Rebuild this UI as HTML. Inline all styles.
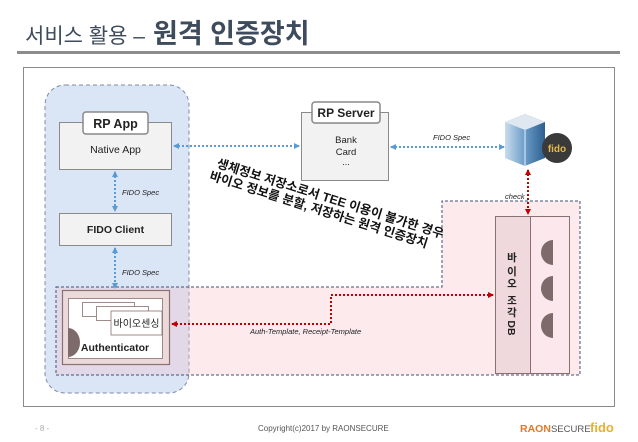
<!DOCTYPE html>
<html><head><meta charset="utf-8"><style>
body{margin:0;width:638px;height:442px;background:#fff;overflow:hidden}
svg{display:block}
text{font-family:"Liberation Sans","Noto Sans CJK KR",sans-serif}
</style></head><body>
<svg width="638" height="442" viewBox="0 0 638 442" xmlns="http://www.w3.org/2000/svg">
<defs>
<marker id="bh" markerWidth="6" markerHeight="6" refX="5" refY="3" orient="auto-start-reverse" markerUnits="userSpaceOnUse"><path d="M0,0 L6,3 L0,6 z" fill="#5b9bd5"/></marker>
<marker id="rh" markerWidth="6" markerHeight="6" refX="5" refY="3" orient="auto-start-reverse" markerUnits="userSpaceOnUse"><path d="M0,0 L6,3 L0,6 z" fill="#c00000"/></marker>
<linearGradient id="bg" x1="0" y1="0" x2="1" y2="0"><stop offset="0" stop-color="#c9dcee"/><stop offset="0.5" stop-color="#6a9cc8"/><stop offset="1" stop-color="#2d5f8f"/></linearGradient>
</defs>
<!-- title -->
<text x="25" y="43" font-size="21" fill="#3d4b5c">서비스 활용 –</text>
<text x="153" y="43" font-size="27" font-weight="bold" fill="#3d4b5c">원격 인증장치</text>
<rect x="17" y="51" width="603" height="3" fill="#8c8c8c"/>
<!-- frame -->
<rect x="23.5" y="67.5" width="591" height="339" fill="#fff" stroke="#8a8a8a" stroke-width="1"/>
<!-- blue region -->
<rect x="45" y="85" width="144" height="308" rx="20" fill="#dae5f6" stroke="#7d8ca3" stroke-dasharray="4,3"/>
<!-- pink region -->
<path d="M56,287 H442 V201 H580 V375 H56 Z" fill="rgba(246,190,198,0.32)" stroke="#3f527a" stroke-dasharray="3,2"/>
<!-- RP App -->
<rect x="59.5" y="122.5" width="112" height="47" fill="#f2f2f2" stroke="#8a8a8a"/>
<rect x="83" y="112" width="65" height="22" rx="3" fill="#fff" stroke="#888" stroke-width="1.5"/>
<text x="115.5" y="128" font-size="12.5" font-weight="bold" text-anchor="middle" fill="#222">RP App</text>
<text x="115.5" y="153" font-size="10.5" text-anchor="middle" fill="#222">Native App</text>
<!-- FIDO Client -->
<rect x="59.5" y="213.5" width="112" height="32" fill="#f2f2f2" stroke="#8a8a8a"/>
<text x="115.5" y="233" font-size="10.5" font-weight="bold" text-anchor="middle" fill="#222">FIDO Client</text>
<!-- vertical blue arrows -->
<line x1="115" y1="172" x2="115" y2="211" stroke="#5b9bd5" stroke-width="2" stroke-dasharray="2,2" marker-start="url(#bh)" marker-end="url(#bh)"/>
<text x="122" y="195" font-size="7.5" font-style="italic" fill="#222">FIDO Spec</text>
<line x1="115" y1="248" x2="115" y2="288" stroke="#5b9bd5" stroke-width="2" stroke-dasharray="2,2" marker-start="url(#bh)" marker-end="url(#bh)"/>
<text x="122" y="275" font-size="7.5" font-style="italic" fill="#222">FIDO Spec</text>
<!-- Authenticator -->
<rect x="62.5" y="290.5" width="107" height="74" fill="#ecdada" stroke="#8a7070" stroke-width="1.2"/>
<rect x="68.5" y="298.5" width="94" height="60" fill="#fff" stroke="#8a7070" stroke-width="0.8"/>
<rect x="82.5" y="302.5" width="52" height="14" fill="#fff" stroke="#8a7070" stroke-width="0.8"/>
<rect x="96.5" y="306.5" width="52" height="14" fill="#fff" stroke="#8a7070" stroke-width="0.8"/>
<rect x="111" y="311" width="51" height="24" fill="#fff" stroke="#8a7070" stroke-width="0.8"/>
<text x="136.5" y="327" font-size="10" text-anchor="middle" fill="#222">바이오센싱</text>
<path d="M68,328 A12,14.5 0 0 1 68,357 Z" fill="#7d6a6a"/>
<text x="115" y="351" font-size="10.5" font-weight="bold" text-anchor="middle" fill="#222">Authenticator</text>
<!-- RP Server -->
<rect x="301.5" y="112.5" width="87" height="68" fill="#f2f2f2" stroke="#8a8a8a"/>
<rect x="312" y="102" width="68" height="21" rx="3" fill="#fff" stroke="#888" stroke-width="1.5"/>
<text x="346" y="117" font-size="12" font-weight="bold" text-anchor="middle" fill="#222">RP Server</text>
<text x="346" y="143" font-size="9.5" text-anchor="middle" fill="#222">Bank</text>
<text x="346" y="155" font-size="9.5" text-anchor="middle" fill="#222">Card</text>
<text x="346" y="165" font-size="9" text-anchor="middle" fill="#222">...</text>
<!-- horizontal blue arrows -->
<line x1="174" y1="146" x2="299" y2="146" stroke="#5b9bd5" stroke-width="2" stroke-dasharray="2,2" marker-start="url(#bh)" marker-end="url(#bh)"/>
<line x1="391" y1="147" x2="504" y2="147" stroke="#5b9bd5" stroke-width="2" stroke-dasharray="2,2" marker-start="url(#bh)" marker-end="url(#bh)"/>
<text x="433" y="140" font-size="7.5" font-style="italic" fill="#222">FIDO Spec</text>
<!-- building -->
<path d="M505,122 L525,114 L545,122 L545,158 L525,166 L505,158 Z" fill="url(#bg)"/>
<path d="M505,122 L525,114 L545,122 L525,130 Z" fill="#dfe8f0"/>
<line x1="525" y1="130" x2="525" y2="166" stroke="#eef" stroke-width="1"/>
<circle cx="557" cy="148" r="15" fill="#3a3a3a"/>
<text x="557" y="152" font-size="10" font-weight="bold" text-anchor="middle" fill="#e6b84a">fido</text>
<!-- red vertical -->
<line x1="528" y1="170" x2="528" y2="214" stroke="#c00000" stroke-width="2" stroke-dasharray="2,2" marker-start="url(#rh)" marker-end="url(#rh)"/>
<text x="505" y="199" font-size="7.5" font-style="italic" fill="#222">check</text>
<!-- DB -->
<rect x="495.5" y="216.5" width="35" height="157" fill="#f0d9dd" stroke="#8a7070"/>
<rect x="530.5" y="216.5" width="39" height="157" fill="#fce8ec" stroke="#8a7070"/>
<g font-size="10.5" font-weight="bold" fill="#222" text-anchor="middle">
<text x="512" y="261">바</text><text x="512" y="275">이</text><text x="512" y="287">오</text>
<text x="512" y="304">조</text><text x="512" y="316">각</text>
<text x="512" y="332" transform="rotate(90 512 328)">DB</text>
</g>
<path d="M553,240 A12,12.5 0 0 0 553,265 Z" fill="#7d6a6a"/>
<path d="M553,276 A12,12.5 0 0 0 553,301 Z" fill="#7d6a6a"/>
<path d="M553,313 A12,12.5 0 0 0 553,338 Z" fill="#7d6a6a"/>
<!-- red template arrow -->
<path d="M172,324 H331 V295 H493" fill="none" stroke="#c00000" stroke-width="2" stroke-dasharray="2,2" marker-start="url(#rh)" marker-end="url(#rh)"/>
<text x="250" y="334" font-size="7.5" font-style="italic" fill="#222">Auth-Template, Receipt-Template</text>
<!-- rotated text -->
<g transform="translate(216,167) rotate(17.5)" font-size="12.5" font-weight="bold" fill="#111">
<text x="0" y="0">생체정보 저장소로서 TEE 이용이 불가한 경우</text>
<text x="-3" y="14">바이오 정보를 분할, 저장하는 원격 인증장치</text>
</g>
<!-- footer -->
<text x="35" y="431" font-size="8" fill="#aaa">- 8 -</text>
<text x="258" y="431" font-size="8" fill="#555">Copyright(c)2017 by RAONSECURE</text>
<text x="520" y="432" font-size="10.5" font-weight="bold" fill="#e07a2a">RA<tspan fill="#e07a2a">O</tspan>N<tspan font-weight="normal" fill="#555" font-size="9.5">SECURE</tspan></text>
<text x="590" y="432" font-size="13" font-weight="bold" fill="#e6b030">fido</text>
</svg>
</body></html>
